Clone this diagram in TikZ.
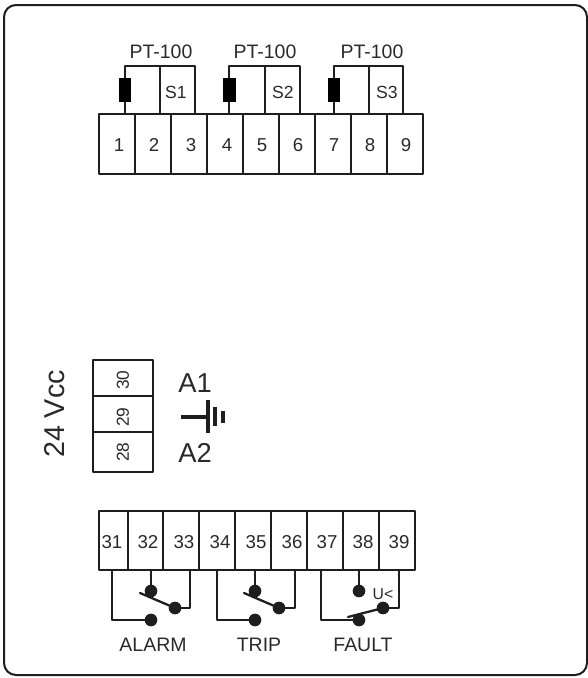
\documentclass[tikz,border=0pt]{standalone}
\usepackage{fontspec}
\setmainfont{Liberation Sans}
\definecolor{ink}{HTML}{1E1E1E}
\definecolor{txt}{HTML}{2A2A2A}
\tikzset{
  wire/.style={draw=ink,line width=1.7pt,line join=round,line cap=round},
  earth/.style={draw=ink,line width=2.3pt},
  cell/.style={draw=ink,line width=1.7pt,line join=round,inner sep=0pt,outer sep=0pt,rectangle},
  lab/.style={text=txt,inner sep=0pt,outer sep=0pt,anchor=center},
  num/.style={lab,font=\fontsize{14}{14}\selectfont},
  vnum/.style={lab,rotate=90,font=\fontsize{13}{13}\selectfont},
  snum/.style={lab,font=\fontsize{13.2}{13.2}\selectfont},
  big/.style={lab,font=\fontsize{20.5}{20.5}\selectfont},
  capt/.style={lab,font=\fontsize{14.6}{14.6}\selectfont},
  dot/.style={circle,fill=ink,draw=none,minimum size=9.5pt,inner sep=0pt,outer sep=0pt},
  res/.style={rectangle,fill=black,draw=none,inner sep=0pt,outer sep=0pt,minimum width=9.5pt,minimum height=18pt},
}
% \cellbox{name}{left}{top}{right}{bottom}
\newcommand{\cellbox}[5]{\node[cell,minimum width={(#4-#2)*0.75pt},minimum height={(#5-#3)*0.75pt}] (#1) at ({(#2+#4)/2},{(#3+#5)/2}) {};}
\begin{document}
\begin{tikzpicture}[x=0.75pt,y=-0.75pt]
\useasboundingbox (0,0) rectangle (588,678);
\fill[white] (0,0) rectangle (588,678);
\node[draw=ink,line width=1.5pt,rounded corners=9pt,minimum width={583*0.75pt},minimum height={670*0.75pt},inner sep=0pt,outer sep=0pt] (frame) at (295.5,340) {};

% top terminals
\cellbox{a1}{99}{114}{135}{174}
\cellbox{a2}{135}{114}{171}{174}
\cellbox{a3}{171}{114}{207}{174}
\cellbox{a4}{207}{114}{243}{174}
\cellbox{a5}{243}{114}{279}{174}
\cellbox{a6}{279}{114}{315}{174}
\cellbox{a7}{315}{114}{351}{174}
\cellbox{a8}{351}{114}{387}{174}
\cellbox{a9}{387}{114}{423}{174}
\node[num] (n1) at (119,145) {1};
\node[num] (n2) at (154,145) {2};
\node[num] (n3) at (191,145) {3};
\node[num] (n4) at (227,145) {4};
\node[num] (n5) at (262,145) {5};
\node[num] (n6) at (298,145) {6};
\node[num] (n7) at (334,145) {7};
\node[num] (n8) at (370,145) {8};
\node[num] (n9) at (406,145) {9};

% sensors
\coordinate (w1a) at (125,114); \coordinate (w1b) at (160,114); \coordinate (w1c) at (195,114);
\coordinate (w2a) at (229,114); \coordinate (w2b) at (265,114); \coordinate (w2c) at (300,114);
\coordinate (w3a) at (334,114); \coordinate (w3b) at (369,114); \coordinate (w3c) at (403,114);
\draw[wire] (w1a) -- ++(0,-48) -| (w1c);
\draw[wire] (w1b) -- ++(0,-48);
\draw[wire] (w2a) -- ++(0,-48) -| (w2c);
\draw[wire] (w2b) -- ++(0,-48);
\draw[wire] (w3a) -- ++(0,-48) -| (w3c);
\draw[wire] (w3b) -- ++(0,-48);
\node[res] (r1) at (125,90) {};
\node[res] (r2) at (229.5,90) {};
\node[res] (r3) at (334,90) {};
\node[capt] (pt1) at (161,52) {PT-100};
\node[capt] (pt2) at (265,52) {PT-100};
\node[capt] (pt3) at (372,52) {PT-100};
\node[snum] (s1) at (176,92) {S1};
\node[snum] (s2) at (283,92) {S2};
\node[snum] (s3) at (387,92) {S3};

% power terminals
\cellbox{p30}{93}{360}{153}{396}
\cellbox{p29}{93}{396}{153}{432}
\cellbox{p28}{93}{432}{153}{472}
\node[vnum] (n30) at (123,380) {30};
\node[vnum] (n29) at (123,417) {29};
\node[vnum] (n28) at (123,452) {28};
\node[lab,rotate=90,font=\fontsize{21.5}{21.5}\selectfont] (vcc) at (55,414) {24 Vcc};
\node[big] (A1) at (195,383) {A1};
\node[big] (A2) at (195,453) {A2};
\coordinate (g0) at (181,417);
\coordinate (g1) at (208,417);
\draw[earth] (g0) -- (g1);
\draw[earth] (208,400) -- (208,433);
\draw[earth] (215,407) -- (215,426);
\draw[earth] (223,411) -- (223,423);

% bottom terminals
\cellbox{b31}{99}{511}{128}{570}
\cellbox{b32}{128}{511}{163}{570}
\cellbox{b33}{163}{511}{199}{570}
\cellbox{b34}{199}{511}{235}{570}
\cellbox{b35}{235}{511}{271}{570}
\cellbox{b36}{271}{511}{307}{570}
\cellbox{b37}{307}{511}{343}{570}
\cellbox{b38}{343}{511}{379}{570}
\cellbox{b39}{379}{511}{415}{570}
\node[num] (n31) at (112,542) {31};
\node[num] (n32) at (148,542) {32};
\node[num] (n33) at (184,542) {33};
\node[num] (n34) at (220,542) {34};
\node[num] (n35) at (256,542) {35};
\node[num] (n36) at (292,542) {36};
\node[num] (n37) at (327,542) {37};
\node[num] (n38) at (363,542) {38};
\node[num] (n39) at (399,542) {39};

% ALARM
\node[dot] (al1) at (151,591) {};
\node[dot] (al2) at (175,608) {};
\node[dot] (al3) at (151,620) {};
\draw[wire] (112,570) |- (al3.center);
\draw[wire] (151,570) -- (al1.center);
\draw[wire] (190,570) |- (al2.center);
\draw[wire] (140,593) -- (al2.center);
% TRIP
\node[dot] (tr1) at (255,591) {};
\node[dot] (tr2) at (279,608) {};
\node[dot] (tr3) at (255,620) {};
\draw[wire] (217,570) |- (tr3.center);
\draw[wire] (255,570) -- (tr1.center);
\draw[wire] (295,570) |- (tr2.center);
\draw[wire] (244,593) -- (tr2.center);
% FAULT
\node[dot] (fa1) at (359,591) {};
\node[dot] (fa2) at (383,608) {};
\node[dot] (fa3) at (359,620) {};
\draw[wire] (321,570) |- (fa3.center);
\draw[wire] (359,570) -- (fa1.center);
\draw[wire] (399,570) |- (fa2.center);
\draw[wire] (348,617) -- (fa2.center);
\node[lab,font=\fontsize{11.8}{11.8}\selectfont] (uv) at (383,594) {U<};

\node[capt] (alarm) at (153,645) {ALARM};
\node[capt] (trip) at (259,645) {TRIP};
\node[capt] (fault) at (363,645) {FAULT};
\end{tikzpicture}
\end{document}
